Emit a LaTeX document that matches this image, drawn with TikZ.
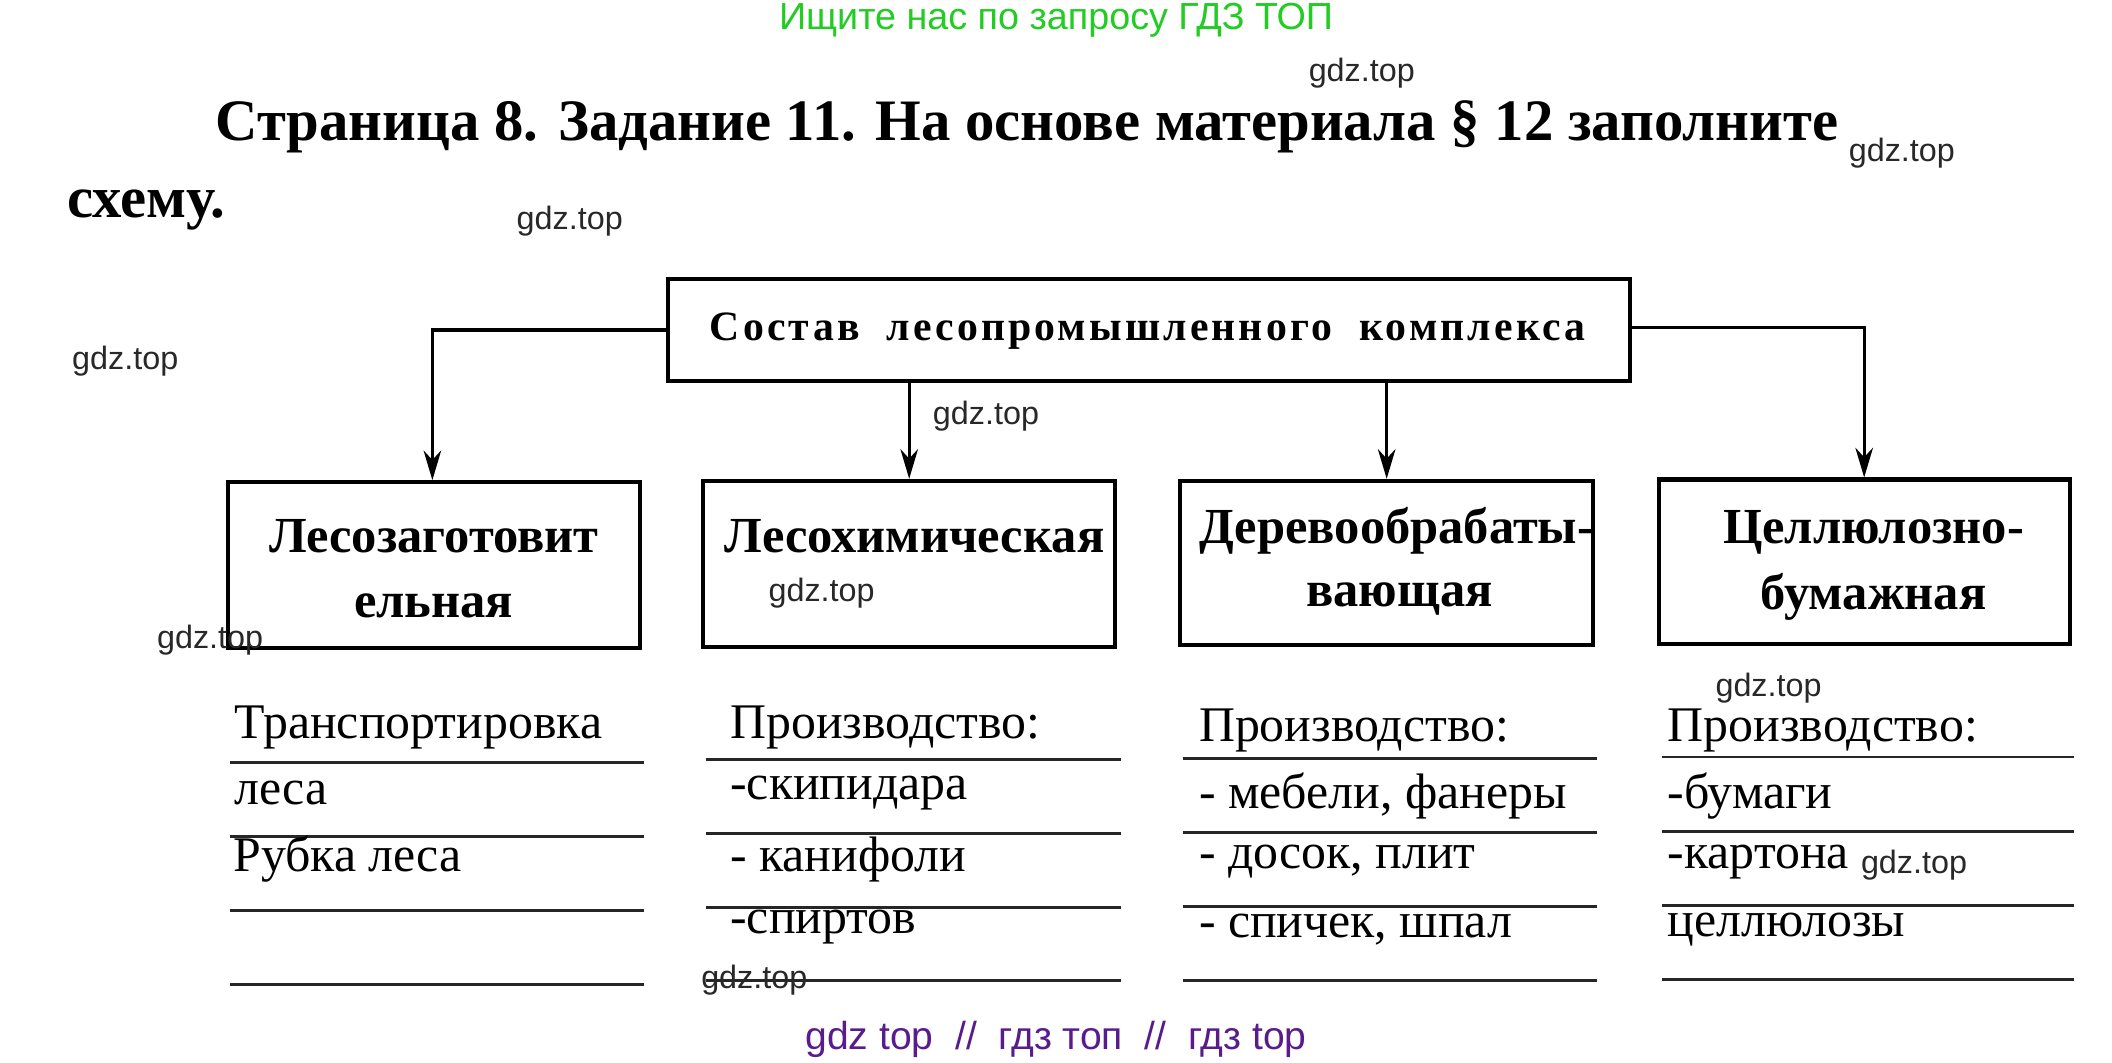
\documentclass[tikz,border=0pt]{standalone}
\usepackage{fontspec}
\setmainfont{Liberation Serif}
\newfontfamily\wmfont{Liberation Sans}
\usetikzlibrary{arrows.meta}
\definecolor{adgreen}{RGB}{34,204,34}
\definecolor{adpurple}{RGB}{88,28,140}
\definecolor{wmgray}{RGB}{40,40,40}
\begin{document}
\begin{tikzpicture}[x=1pt,y=-1pt,
  wm/.style={font=\wmfont\fontsize{24}{26}\selectfont, text=wmgray, inner sep=0pt},
  frame/.style={draw, line width=3pt, inner sep=0pt},
  head/.style={font=\bfseries\fontsize{37.5}{48}\selectfont, align=center, inner sep=0pt},
  conn/.style={line width=2.5pt, -{Stealth[length=22pt,width=13pt,inset=7pt]}},
  rule/.style={line width=2.2pt, black!85},
  entry/.style={font=\fontsize{37}{40}\selectfont, anchor=west, inner sep=0pt}]
\useasboundingbox (0,0) rectangle (1568,789);
% top texts
\node[font=\wmfont\fontsize{28}{30}\selectfont, text=adgreen, inner sep=0pt] (ad) at (784,15) {Ищите нас по запросу ГДЗ ТОП};
\node[font=\bfseries\fontsize{43.6}{46}\selectfont, anchor=west, inner sep=0pt] (t1) at (160,94) {Страница 8. Задание 11. На основе материала § 12 заполните};
\node[font=\bfseries\fontsize{43.6}{46}\selectfont, anchor=west, inner sep=0pt] (t2) at (50,156) {схему.};
% main box
\node[frame, minimum width=714pt, minimum height=76pt] (main) at (853,245) {};
\node[font=\bfseries\fontsize{31}{34}\selectfont, inner sep=0pt] (maint) at (852,246) {\addfontfeature{LetterSpace=7.5}Состав\ \ лесопромышленного\ \ комплекса};
% sub boxes
\node[frame, minimum width=306pt, minimum height=123pt] (b1) at (322,419.5) {};
\node[frame, minimum width=306pt, minimum height=123pt] (b2) at (675,418.5) {};
\node[frame, minimum width=307pt, minimum height=122pt] (b3) at (1029.5,418) {};
\node[frame, minimum width=305pt, minimum height=122pt] (b4) at (1384.5,417) {};
\node[head] (h1a) at (322,398) {Лесозаготовит};
\node[head] (h1b) at (322,450) {ельная};
\node[head] (h2a) at (679,398) {Лесохимическая};
\node[head] (h3a) at (1037,394) {Деревообрабаты-};
\node[head] (h3b) at (1039,445) {вающая};
\node[head] (h4a) at (1391,395) {Целлюлозно-};
\node[head] (h4b) at (1391,443) {бумажная};
% connectors
\coordinate (c1) at (321,245);
\coordinate (c4) at (1384,243);
\draw[conn] (main.west |- c1) -- (c1) -- (b1.north -| c1);
\draw[conn] (main.south -| b2) -- (b2.north);
\draw[conn] (main.south -| b3) -- (b3.north);
\draw[conn] (main.east |- c4) -- (c4) -- (b4.north -| c4);
% rules
\foreach \y [count=\i] in {566,621,676,731} \draw[rule] (171,\y) coordinate (ra\i) -- (478,\y);
\foreach \y [count=\i] in {564,619,674,728} \draw[rule] (524,\y) coordinate (rb\i) -- (832,\y);
\foreach \y [count=\i] in {563,618,673,728} \draw[rule] (878,\y) coordinate (rc\i) -- (1186,\y);
\foreach \y [count=\i] in {562,617,672,727} \draw[rule] (1234,\y) coordinate (rd\i) -- (1540,\y);
% entries
\node[entry] (e11) at (174,540) {Транспортировка};
\node[entry] (e12) at (174,589) {леса};
\node[entry] (e13) at (173,638) {Рубка леса};
\node[entry] (e21) at (542,540) {Производство:};
\node[entry] (e22) at (542,589) {-скипидара};
\node[entry] (e23) at (542,638) {- канифоли};
\node[entry] (e24) at (542,688) {-спиртов};
\node[entry] (e31) at (890,542) {Производство:};
\node[entry] (e32) at (890,591) {- мебели, фанеры};
\node[entry] (e33) at (890,640) {- досок, плит};
\node[entry] (e34) at (890,690) {- спичек, шпал};
\node[entry] (e41) at (1238,542) {Производство:};
\node[entry] (e42) at (1238,591) {-бумаги};
\node[entry] (e43) at (1238,640) {-картона};
\node[entry] (e44) at (1238,690) {целлюлозы};
% watermarks
\node[wm] (w1) at (1011,54) {gdz.top};
\node[wm] (w2) at (1412,114) {gdz.top};
\node[wm] (w3) at (423,164) {gdz.top};
\node[wm] (w4) at (93,268) {gdz.top};
\node[wm] (w5) at (732,309) {gdz.top};
\node[wm] (w6) at (610,440) {gdz.top};
\node[wm] (w7) at (156,475) {gdz.top};
\node[wm] (w8) at (1313,511) {gdz.top};
\node[wm] (w9) at (1421,642) {gdz.top};
\node[wm] (w10) at (560,728) {gdz.top};
\node[font=\wmfont\fontsize{29}{31}\selectfont, text=adpurple, inner sep=0pt] (foot) at (784,772) {gdz top\ \ //\ \ гдз топ\ \ //\ \ гдз top};
\end{tikzpicture}
\end{document}
